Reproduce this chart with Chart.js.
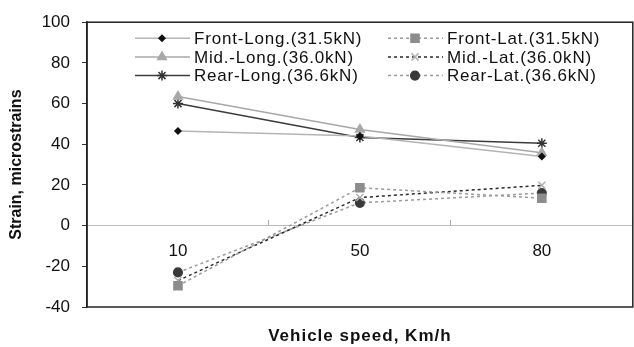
<!DOCTYPE html>
<html>
<head>
<meta charset="utf-8">
<script src="https://cdn.jsdelivr.net/npm/chart.js@4/dist/chart.umd.min.js"></script>
<style>
  html, body { margin: 0; padding: 0; background: #fff; overflow: hidden; }
</style>
</head>
<body>
<canvas id="strainChart" width="640" height="347"></canvas>
<script>
// vehicle speed categories (km/h)
const speeds = ['10', '50', '80'];

// longitudinal strains
const frontLong = [46.5, 44.0, 34.0];
const midLong = [63.5, 47.3, 35.8];
const rearLong = [60.0, 43.3, 40.5];

// lateral strains
const frontLat = [-29.6, 18.6, 13.5];
const midLat = [-27.0, 13.8, 19.8];
const rearLat = [-23.0, 11.2, 16.0];

const yTicks = [-40, -20, 0, 20, 40, 60, 80, 100];
const xTitle = 'Vehicle speed, Km/h';

Chart.defaults.font.family = '"Liberation Sans", Arial, sans-serif';
Chart.defaults.color = '#111';

// frame round the plot area + x axis title
const plotFrame = {
    id: 'plotFrame',
    afterDraw(chart) {
        const a = chart.chartArea;
        const ctx = chart.ctx;
        ctx.save();
        ctx.strokeStyle = '#222';
        ctx.lineWidth = 1.5;
        ctx.strokeRect(a.left, a.top, a.right - a.left, a.bottom - a.top);
        ctx.fillStyle = '#111';
        ctx.font = 'bold 17px "Liberation Sans", Arial, sans-serif';
        ctx.letterSpacing = '1px';
        ctx.textAlign = 'center';
        ctx.textBaseline = 'middle';
        ctx.fillText(xTitle, (a.left + a.right) / 2, a.bottom + 29);
        ctx.restore();
    }
};

// legend inside the plot, two columns of three
const innerLegend = {
    id: 'innerLegend',
    afterDraw(chart) {
        const ctx = chart.ctx;
        const a = chart.chartArea;
        ctx.save();
        chart.data.datasets.forEach((ds, i) => {
            const col = i < 3 ? 0 : 1;
            const row = i % 3;
            const x0 = a.left + (col === 0 ? 48 : 301);
            const y = a.top + 16 + row * 18.7;
            ctx.strokeStyle = ds.borderColor;
            ctx.lineWidth = ds.borderWidth;
            ctx.setLineDash(ds.borderDash || []);
            ctx.beginPath();
            ctx.moveTo(x0, y);
            ctx.lineTo(x0 + 55, y);
            ctx.stroke();
            ctx.setLineDash([]);
            ctx.fillStyle = ds.pointBackgroundColor;
            ctx.strokeStyle = ds.pointBorderColor;
            Chart.helpers.drawPoint(ctx, {
                pointStyle: ds.pointStyle,
                radius: ds.pointRadius,
                borderWidth: ds.pointBorderWidth,
                rotation: 0
            }, x0 + 27, y);
            ctx.fillStyle = '#111';
            ctx.font = '17px "Liberation Sans", Arial, sans-serif';
            ctx.letterSpacing = '0.8px';
            ctx.textBaseline = 'middle';
            ctx.textAlign = 'left';
            ctx.fillText(ds.label, x0 + 59, y + 1);
            ctx.letterSpacing = '0px';
        });
        ctx.restore();
    }
};

function series(label, data, color, pointStyle, pointColor, radius, dash) {
    return {
        label: label,
        data: data,
        borderColor: color,
        borderWidth: 1.5,
        borderDash: dash,
        pointStyle: pointStyle,
        pointRadius: radius,
        pointBorderWidth: 1.5,
        pointBackgroundColor: pointColor,
        pointBorderColor: pointColor,
        tension: 0,
        fill: false
    };
}

new Chart(document.getElementById('strainChart'), {
    type: 'line',
    data: {
        labels: speeds,
        datasets: [
            series('Front-Long.(31.5kN)', frontLong, '#b4b4b4', 'rectRot', '#111', 3, []),
            series('Mid.-Long.(36.0kN)', midLong, '#a8a8a8', 'triangle', '#a8a8a8', 5, []),
            series('Rear-Long.(36.6kN)', rearLong, '#3c3c3c', 'star', '#333', 5, []),
            series('Front-Lat.(31.5kN)', frontLat, '#9a9a9a', 'rect', '#8c8c8c', 5.7, [3, 3]),
            series('Mid.-Lat.(36.0kN)', midLat, '#2a2a2a', 'crossRot', '#b0b0b0', 5, [3, 3]),
            series('Rear-Lat.(36.6kN)', rearLat, '#9a9a9a', 'circle', '#3a3a3a', 4.3, [3, 3])
        ]
    },
    options: {
        responsive: false,
        animation: false,
        layout: { padding: { top: 18, right: 1, left: 0, bottom: 40 } },
        plugins: {
            legend: { display: false },
            tooltip: { enabled: false }
        },
        scales: {
            x: {
                type: 'category',
                offset: true,
                position: { y: 0 },
                grid: { drawOnChartArea: false, drawTicks: true, tickLength: -6, color: '#aaa', offset: true },
                border: { color: '#bbb', width: 1 },
                ticks: { color: '#111', font: { size: 17 }, padding: 21 },
                afterFit: s => { s.height = 0; }
            },
            y: {
                min: yTicks[0],
                max: yTicks[yTicks.length - 1],
                afterBuildTicks: s => { s.ticks = yTicks.map(v => ({ value: v })); },
                ticks: { color: '#111', font: { size: 17 }, padding: 12 },
                grid: { drawOnChartArea: false, tickLength: 5, color: '#333' },
                border: { color: '#222', width: 1.5 },
                title: {
                    display: true,
                    text: 'Strain, microstrains',
                    color: '#111',
                    font: { size: 16, weight: 'bold' },
                    padding: { top: 7, bottom: 0 }
                },
                afterFit: s => { s.width = 87; }
            }
        }
    },
    plugins: [plotFrame, innerLegend]
});
</script>
</body>
</html>
